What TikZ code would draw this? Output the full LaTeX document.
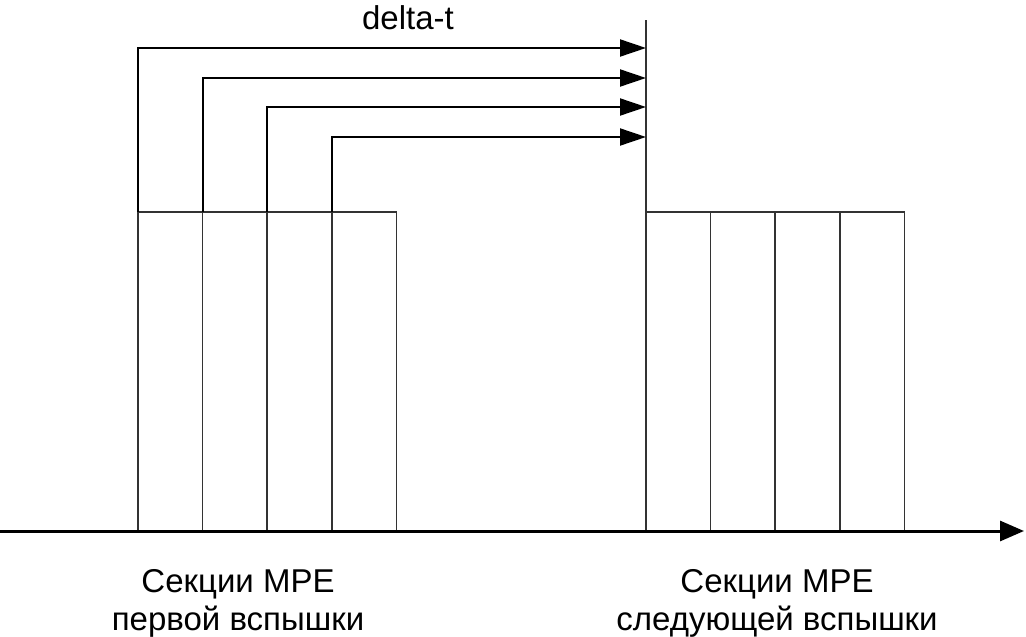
\documentclass[tikz,border=0pt]{standalone}
\usepackage{fontspec}
\setmainfont{Liberation Sans}
\usetikzlibrary{arrows.meta,positioning}

\begin{document}
\begin{tikzpicture}[
    x=1pt, y=-1pt,
    node distance=0pt,
    section/.style={
      rectangle,
      draw=black!80,
      line width=1.5pt,
      inner sep=0pt,
      outer sep=0pt,
      minimum width=64.6pt,
      minimum height=319pt
    },
    line/.style={draw, line width=2pt, -{Triangle[length=26pt,width=17pt]}},
    edge/.style={draw=black!80, line width=1.8pt},
    axis/.style={draw, line width=3pt, -{Triangle[length=24pt,width=20pt]}},
    caption/.style={align=center, font=\fontsize{33}{38}\selectfont, inner sep=0pt}
  ]
  \useasboundingbox (0,0) rectangle (1026,637);

  % Nodes
  \node [section, anchor=south west] (s1) at (138,531) {};
  \node [section, right=of s1] (s2) {};
  \node [section, right=of s2] (s3) {};
  \node [section, right=of s3] (s4) {};

  \node [section, anchor=south west] (n1) at (646,531) {};
  \node [section, right=of n1] (n2) {};
  \node [section, right=of n2] (n3) {};
  \node [section, right=of n3] (n4) {};

  \coordinate (tick) at (646,20);
  \coordinate (a1) at (646,48);
  \coordinate (a2) at (646,78);
  \coordinate (a3) at (646,107);
  \coordinate (a4) at (646,137);
  \coordinate (origin) at (0,531);
  \coordinate (tend) at (1024,531);

  \node [caption] (dt) at (408,18) {delta-t};
  \node [caption] (first) at (238,603) {Секции MPE\\первой вспышки};
  \node [caption] (next) at (777,603) {Секции MPE\\следующей вспышки};

  % Arrows
  \draw[edge] (n1.north west) -- (tick);
  \draw[line] (s1.north west) |- (a1);
  \draw[line] (s2.north west) |- (a2);
  \draw[line] (s3.north west) |- (a3);
  \draw[line] (s4.north west) |- (a4);
  \draw[axis] (origin) -- (tend);

\end{tikzpicture}
\end{document}
